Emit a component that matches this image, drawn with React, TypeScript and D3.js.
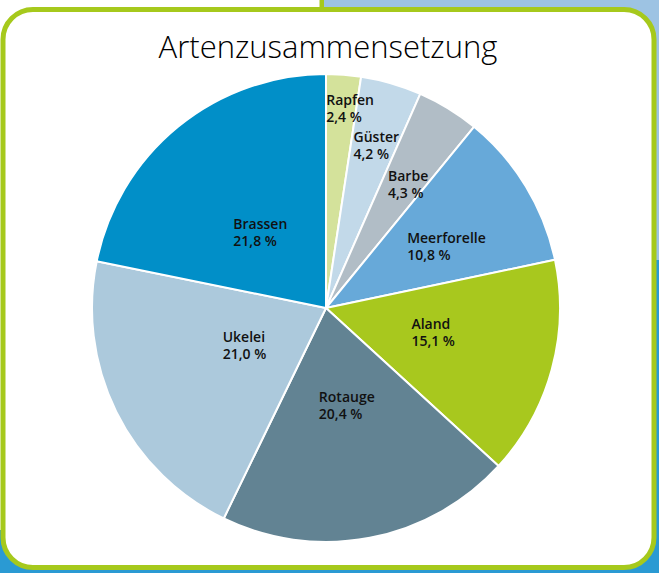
import React, { useEffect, useRef } from 'react';
import * as d3 from 'd3';

// Artenzusammensetzung (Anteil in %)
const species = ['Rapfen', 'Güster', 'Barbe', 'Meerforelle', 'Aland', 'Rotauge', 'Ukelei', 'Brassen'];
const shares = [2.4, 4.2, 4.3, 10.8, 15.1, 20.4, 21.0, 21.8];
const colors = ['#d4e29b', '#c2d9e9', '#b1bdc6', '#67a9d9', '#a8c81e', '#628393', '#acc9dc', '#018fc8'];
// label placement: distance from the centre and a small turn (degrees) off the slice middle
const labelRadius = [200, 170, 148, 135, 110, 100, 90, 100];
const labelTurn = [2.6, 1, 2.2, 4.5, -2.3, -1.2, 1.2, -1.8];

const width = 659;
const height = 573;

const App = () => {
  const ref = useRef<SVGSVGElement | null>(null);

  useEffect(() => {
    const svg = d3.select(ref.current);
    svg.selectAll('*').remove();

    // backdrop around the framed box
    svg.append('rect').attr('width', width).attr('height', height).attr('fill', '#fff');
    svg.append('rect').attr('x', 322).attr('y', 0).attr('width', width - 322).attr('height', 260).attr('fill', '#9dc3e3');
    svg.append('rect').attr('x', 322).attr('y', 260).attr('width', width - 322).attr('height', height - 260).attr('fill', '#2a9ad3');
    svg.append('rect').attr('x', 0).attr('y', 530).attr('width', width).attr('height', height - 530).attr('fill', '#2a9ad3');
    svg.append('rect').attr('x', 319.5).attr('y', 0).attr('width', 4.5).attr('height', 12).attr('fill', '#a6c91c');

    svg.append('rect')
      .attr('x', 3).attr('y', 9.5)
      .attr('width', 651).attr('height', 558)
      .attr('rx', 30).attr('ry', 30)
      .attr('fill', '#fff')
      .attr('stroke', '#a6c91c')
      .attr('stroke-width', 5);

    svg.append('text')
      .attr('x', 328).attr('y', 58)
      .attr('text-anchor', 'middle')
      .attr('font-family', '"Open Sans", sans-serif')
      .attr('font-weight', 300)
      .attr('font-size', 31)
      .attr('fill', '#000')
      .text('Artenzusammensetzung');

    const data = species.map((name, i) => ({
      name,
      value: shares[i],
      color: colors[i],
      lr: labelRadius[i],
      turn: (labelTurn[i] * Math.PI) / 180,
    }));
    const R = 234;
    const pie = d3.pie<any>().value((d) => d.value).sort(null);
    const arc = d3.arc<any>().innerRadius(0).outerRadius(R);

    const g = svg.append('g').attr('transform', 'translate(326,308)');

    g.selectAll('path')
      .data(pie(data))
      .enter()
      .append('path')
      .attr('d', arc)
      .attr('fill', (d) => d.data.color)
      .attr('stroke', '#fff')
      .attr('stroke-width', 2)
      .attr('stroke-linejoin', 'round');

    const fmt = (v: number) => v.toFixed(1).replace('.', ',') + ' %';

    g.selectAll('g.lbl')
      .data(pie(data))
      .enter()
      .append('g')
      .attr('class', 'lbl')
      .each(function (d) {
        const lg = d3.select(this);
        const a = d3.arc<any>().innerRadius(d.data.lr).outerRadius(d.data.lr);
        const [cx, cy] = a.centroid({
          startAngle: d.startAngle + d.data.turn,
          endAngle: d.endAngle + d.data.turn,
        });
        const t = lg.append('text')
          .attr('font-family', '"Open Sans", sans-serif')
          .attr('font-weight', 600)
          .attr('font-size', 14)
          .attr('fill', '#111');
        t.append('tspan').attr('x', 0).attr('y', 0).text(d.data.name);
        t.append('tspan').attr('x', 0).attr('y', 17).text(fmt(d.data.value));
        const w = (t.node() as SVGTextElement).getBBox().width;
        lg.attr('transform', `translate(${cx - w / 2},${cy - 4})`);
      });
  }, []);

  return (
    <svg
      ref={ref}
      width={width}
      height={height}
      style={{ position: 'absolute', left: 0, top: 0 }}
    />
  );
};

export default App;
